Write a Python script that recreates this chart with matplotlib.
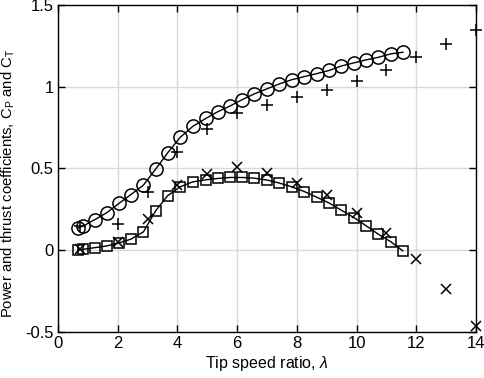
import matplotlib
matplotlib.use("Agg")
import matplotlib.pyplot as plt

plt.rcParams['font.family'] = ['Liberation Sans', 'DejaVu Sans']
plt.rcParams['mathtext.fontset'] = 'custom'
plt.rcParams['mathtext.rm'] = 'Liberation Sans'
plt.rcParams['mathtext.it'] = 'Liberation Sans:italic'

# simulation: tip speed ratio and coefficients
tsr_sim = [0.66, 0.85, 1.24, 1.63, 2.04, 2.43, 2.86, 3.27, 3.67, 4.09, 4.51, 4.95,
           5.35, 5.76, 6.17, 6.57, 7.01, 7.41, 7.83, 8.25, 8.66, 9.09, 9.49, 9.91,
           10.31, 10.73, 11.14, 11.55]
cp_sim = [0.135, 0.149, 0.188, 0.229, 0.286, 0.339, 0.398, 0.496, 0.595, 0.690,
          0.757, 0.806, 0.847, 0.882, 0.921, 0.956, 0.988, 1.017, 1.043, 1.062,
          1.080, 1.100, 1.127, 1.146, 1.164, 1.180, 1.201, 1.211]
ct_sim = [0.000, 0.006, 0.016, 0.026, 0.045, 0.067, 0.112, 0.241, 0.333, 0.388,
          0.418, 0.431, 0.439, 0.445, 0.445, 0.441, 0.429, 0.411, 0.388, 0.359,
          0.325, 0.288, 0.245, 0.200, 0.151, 0.098, 0.053, -0.004]

# experiment / reference data
tsr_exp = [0.75, 2, 3, 4, 5, 6, 7, 8, 9, 10, 11, 12, 13, 14]
cp_exp = [0.148, 0.159, 0.359, 0.598, 0.741, 0.839, 0.890, 0.935, 0.980, 1.035,
          1.103, 1.180, 1.262, 1.344]
ct_exp = [0.005, 0.049, 0.190, 0.398, 0.469, 0.510, 0.474, 0.414, 0.337, 0.230,
          0.108, -0.051, -0.239, -0.464]

yticks = [-0.5, 0, 0.5, 1, 1.5]
ytick_labels = ['-0.5', '0', '0.5', '1', '1.5']
xticks = [0, 2, 4, 6, 8, 10, 12, 14]

fig = plt.figure(figsize=(4.84, 3.78), dpi=100)
ax = fig.add_axes([0.1198, 0.1217, 0.8637, 0.8651])

ax.plot(tsr_sim, cp_sim, '-o', color='black', lw=1, ms=9.5, mfc='none', mew=1.1, clip_on=False)
ax.plot(tsr_sim, ct_sim, '-s', color='black', lw=1, ms=7, mfc='none', mew=1.1, clip_on=False)
ax.plot(tsr_exp, cp_exp, '+', color='black', ms=9, mew=1.1, clip_on=False)
ax.plot(tsr_exp, ct_exp, 'x', color='black', ms=6.5, mew=1.1, clip_on=False)

ax.set_xlim(0, 14)
ax.set_ylim(-0.5, 1.5)
ax.set_xticks(xticks)
ax.set_xticklabels([str(t) for t in xticks])
ax.set_yticks(yticks)
ax.set_yticklabels(ytick_labels)
ax.grid(True, color='#d9d9d9', lw=1)
ax.set_axisbelow(True)
ax.tick_params(direction='in', top=True, right=True, length=5, width=1,
               labelsize=12, colors='black', pad=3)
for s in ax.spines.values():
    s.set_linewidth(1)

ax.set_xlabel(r'Tip speed ratio, $\mathit{\lambda}$', fontsize=11.5, labelpad=2)
ax.set_ylabel(r'Power and thrust coefficients, C$_\mathrm{P}$ and C$_\mathrm{T}$',
              fontsize=10.7)
ax.yaxis.set_label_coords(-0.097, 0.455)

fig.savefig('out.png', dpi=100)
